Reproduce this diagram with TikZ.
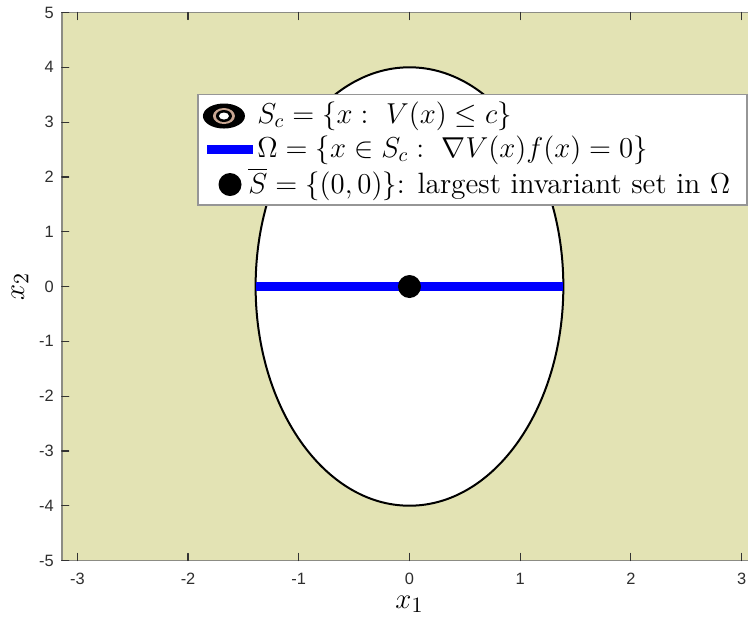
\documentclass[tikz,border=0pt]{standalone}
\usepackage{amsmath,amssymb}
\usepackage{fontspec}
\newfontfamily\ticksfont{Liberation Sans}
\usepackage{tikz}
\usetikzlibrary{arrows.meta}
\usepackage{xcolor}
\definecolor{plotbg}{RGB}{227,227,180}
\definecolor{axgray}{RGB}{140,140,132}
\definecolor{leggray}{RGB}{150,150,150}
\definecolor{ringtan}{RGB}{201,166,146}
\tikzset{
  ticklbl/.style={inner sep=1pt,font=\ticksfont\fontsize{8.2}{9}\selectfont,text=black!82},
  axlbl/.style={inner sep=0pt,font=\fontsize{15}{18}\selectfont},
  legtext/.style={anchor=west,inner sep=0pt,font=\fontsize{14.7}{17}\selectfont},
}

\begin{document}
\begin{tikzpicture}[x=55.35pt,y=27.4pt,line cap=round]
\useasboundingbox (-3.699,-6.049) rectangle (3.058,5.228);
\clip (-3.699,-6.049) rectangle (3.058,5.228);
% level set and its pieces
\fill[plotbg] (-3.1416,-5) rectangle (3.1416,5);
\filldraw[fill=white,draw=black,line width=1pt] (0,0) ellipse [x radius=1.39,y radius=4];
\draw[blue,line width=4.5pt,line cap=butt] (-1.39,0) -- (1.39,0);
\fill[black] (0,0) circle (5.75pt);
% axes box
\draw[axgray,line width=0.9pt] (-3.1416,-5) rectangle (3.1416,5);
\draw[black!80,line width=0.6pt] (-3,5) -- (-3,4.872) (-3,-4.872) -- (-3,-5) node[ticklbl,below=5pt] (xtm3) {-3};
\draw[black!80,line width=0.6pt] (-2,5) -- (-2,4.872) (-2,-4.872) -- (-2,-5) node[ticklbl,below=5pt] (xtm2) {-2};
\draw[black!80,line width=0.6pt] (-1,5) -- (-1,4.872) (-1,-4.872) -- (-1,-5) node[ticklbl,below=5pt] (xtm1) {-1};
\draw[black!80,line width=0.6pt] (0,5) -- (0,4.872) (0,-4.872) -- (0,-5) node[ticklbl,below=5pt] (xt0) {0};
\draw[black!80,line width=0.6pt] (1,5) -- (1,4.872) (1,-4.872) -- (1,-5) node[ticklbl,below=5pt] (xt1) {1};
\draw[black!80,line width=0.6pt] (2,5) -- (2,4.872) (2,-4.872) -- (2,-5) node[ticklbl,below=5pt] (xt2) {2};
\draw[black!80,line width=0.6pt] (3,5) -- (3,4.872) (3,-4.872) -- (3,-5) node[ticklbl,below=5pt] (xt3) {3};
\draw[black!80,line width=0.6pt] (-3.0784,-5) -- (-3.1416,-5) node[ticklbl,left=2.7pt] (ytm5) {-5};
\draw[black!80,line width=0.6pt] (-3.0784,-4) -- (-3.1416,-4) node[ticklbl,left=2.7pt] (ytm4) {-4};
\draw[black!80,line width=0.6pt] (-3.0784,-3) -- (-3.1416,-3) node[ticklbl,left=2.7pt] (ytm3) {-3};
\draw[black!80,line width=0.6pt] (-3.0784,-2) -- (-3.1416,-2) node[ticklbl,left=2.7pt] (ytm2) {-2};
\draw[black!80,line width=0.6pt] (-3.0784,-1) -- (-3.1416,-1) node[ticklbl,left=2.7pt] (ytm1) {-1};
\draw[black!80,line width=0.6pt] (-3.0784,0) -- (-3.1416,0) node[ticklbl,left=2.7pt] (yt0) {0};
\draw[black!80,line width=0.6pt] (-3.0784,1) -- (-3.1416,1) node[ticklbl,left=2.7pt] (yt1) {1};
\draw[black!80,line width=0.6pt] (-3.0784,2) -- (-3.1416,2) node[ticklbl,left=2.7pt] (yt2) {2};
\draw[black!80,line width=0.6pt] (-3.0784,3) -- (-3.1416,3) node[ticklbl,left=2.7pt] (yt3) {3};
\draw[black!80,line width=0.6pt] (-3.0784,4) -- (-3.1416,4) node[ticklbl,left=2.7pt] (yt4) {4};
\draw[black!80,line width=0.6pt] (-3.0784,5) -- (-3.1416,5) node[ticklbl,left=2.7pt] (yt5) {5};
\node[axlbl] (xlab) at (0,-5.80) {$x_1$};
\node[axlbl,rotate=90] (ylab) at (-3.518,0) {$x_2$};
% legend
\filldraw[fill=white,draw=leggray,line width=0.6pt] (-1.911,1.487) rectangle (3.049,3.504);
\fill[black] (-1.676,3.111) ellipse [x radius=10.5pt,y radius=6.25pt];
\fill[ringtan] (-1.676,3.111) ellipse [x radius=5.5pt,y radius=4pt];
\fill[black] (-1.676,3.111) ellipse [x radius=4pt,y radius=3pt];
\fill[white] (-1.676,3.111) ellipse [x radius=2.5pt,y radius=1.75pt];
\draw[blue,line width=4.5pt,line cap=butt] (-1.829,2.491) -- (-1.414,2.491);
\fill[black] (-1.621,1.861) circle (5.75pt);
\node[legtext] (legsc) at (-1.378,3.111) {$S_c=\{x:\ V(x)\leq c\}$};
\node[legtext] (legom) at (-1.378,2.491) {$\Omega=\{x\in S_c:\ \nabla V(x)f(x)=0\}$};
\node[legtext] (legsb) at (-1.459,1.861) {$\overline{S}=\{(0,0)\}$: largest invariant set in $\Omega$};
\end{tikzpicture}
\end{document}
